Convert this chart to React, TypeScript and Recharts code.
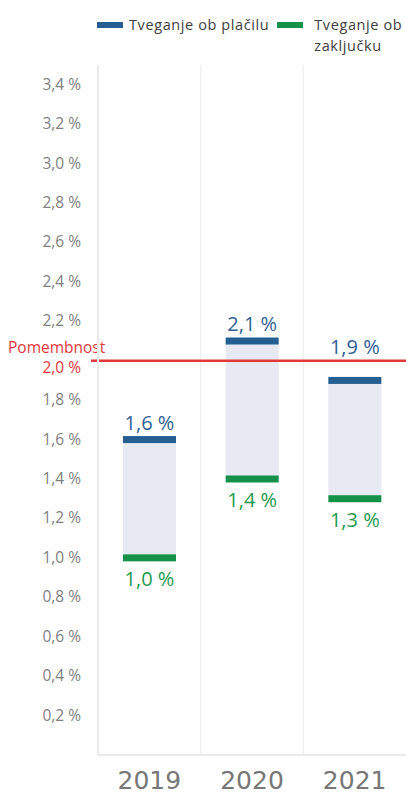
import { Bar, CartesianGrid, ComposedChart, ReferenceLine, XAxis, YAxis } from "recharts"

const years = ["2019", "2020", "2021"]
const paymentRisk = [1.6, 2.1, 1.9]
const closingRisk = [1.0, 1.4, 1.3]
const yTicks = [0.2, 0.4, 0.6, 0.8, 1.0, 1.2, 1.4, 1.6, 1.8, 2.0, 2.2, 2.4, 2.6, 2.8, 3.0, 3.2, 3.4]
const materiality = 2.0
const legendNames = ["Tveganje ob plačilu", "Tveganje ob zaključku"]

const BLUE = "#255e91"
const GREEN = "#16914a"
const RANGE_FILL = "#e7eaf3"
const RED = "#e2383b"
const GREY = "#7f7f7f"

const data = years.map((year, i) => ({
  year,
  payment: paymentRisk[i],
  closing: closingRisk[i],
}))

const fmt = (v: number) => `${v.toFixed(1).replace(".", ",")} %`

function RangeShape(props: any) {
  const { x, y, width, height, payload } = props
  const cap = 7
  const cx = x + width / 2
  // keep the upper label clear of the materiality line
  const pxPerUnit = height / (payload.payment - payload.closing)
  const lineY = y - (materiality - payload.payment) * pxPerUnit
  let topY = y - 10
  if (topY > lineY - 6 && topY - 16 < lineY + 4) topY = lineY - 7
  return (
    <g>
      <rect x={x} y={y} width={width} height={height} fill={RANGE_FILL} />
      <rect x={x} y={y - cap / 2} width={width} height={cap} fill={BLUE} />
      <rect x={x} y={y + height - cap / 2} width={width} height={cap} fill={GREEN} />
      <text x={cx} y={topY} textAnchor="middle" fill="#2f6196" fontSize={20} fontFamily="Open Sans">
        {fmt(payload.payment)}
      </text>
      <text x={cx} y={y + height + 28} textAnchor="middle" fill="#1e9a4f" fontSize={20} fontFamily="Open Sans">
        {fmt(payload.closing)}
      </text>
    </g>
  )
}

function YTick(props: any) {
  const { x, y, payload } = props
  const red = Math.abs(payload.value - materiality) < 1e-6
  return (
    <text
      x={x - 9}
      y={y + (red ? 12 : 5)}
      textAnchor="end"
      fill={red ? RED : GREY}
      fontSize={15.5}
      fontFamily="Open Sans"
    >
      {fmt(payload.value)}
    </text>
  )
}

function XTick(props: any) {
  const { x, y, payload } = props
  return (
    <text x={x} y={y + 26} textAnchor="middle" fill="#777" fontSize={25} fontFamily="DejaVu Sans">
      {payload.value}
    </text>
  )
}

function MaterialityLabel(props: any) {
  const { viewBox } = props
  return (
    <g>
      <line x1={91} x2={viewBox.x} y1={viewBox.y} y2={viewBox.y} stroke={RED} strokeWidth={2.5} />
      <text x={8} y={viewBox.y - 8} fill={RED} fontSize={15.5} fontFamily="Open Sans">
        Pomembnost
      </text>
    </g>
  )
}

function LegendBox() {
  const item = { display: "flex", alignItems: "flex-start" } as const
  const text = { fontSize: 14.5, color: "#404040", letterSpacing: 0.6, lineHeight: "21px" }
  return (
    <div
      style={{
        position: "absolute",
        left: 0,
        top: 0,
        display: "flex",
        fontFamily: "Open Sans",
        paddingLeft: 97,
        paddingTop: 14,
      }}
    >
      <div style={item}>
        <div style={{ width: 26, height: 6, background: BLUE, marginTop: 8, marginRight: 6 }} />
        <div style={text}>{legendNames[0]}</div>
      </div>
      <div style={{ ...item, marginLeft: 8 }}>
        <div style={{ width: 26, height: 6, background: GREEN, marginTop: 8, marginRight: 11 }} />
        <div style={{ ...text, width: 90 }}>{legendNames[1]}</div>
      </div>
    </div>
  )
}

export default function App() {
  return (
    <div style={{ position: "absolute", left: 0, top: 0, width: 406, height: 794, background: "#fff" }}>
      <ComposedChart width={406} height={794} data={data} margin={{ top: 65, right: 0, bottom: 0, left: 0 }}>
        <CartesianGrid
          horizontal={false}
          stroke="#f0f0f0"
          strokeWidth={1.5}
          verticalCoordinatesGenerator={({ offset }: any) =>
            years.slice(1).map((_, i) => offset.left + (offset.width * (i + 1)) / years.length)
          }
        />
        <XAxis
          dataKey="year"
          height={39}
          tick={<XTick />}
          tickLine={false}
          axisLine={{ stroke: "#eaeaea", strokeWidth: 2 }}
        />
        <YAxis
          domain={[0, 3.5]}
          ticks={yTicks}
          width={98}
          interval={0}
          tick={<YTick />}
          tickLine={false}
          axisLine={{ stroke: "#eaeaea", strokeWidth: 2 }}
        />
        <Bar
          dataKey={(d: any) => [d.closing, d.payment]}
          barSize={53}
          shape={<RangeShape />}
          isAnimationActive={false}
        />
        <ReferenceLine
          y={materiality}
          stroke={RED}
          strokeWidth={2.5}
          label={<MaterialityLabel />}
        />
      </ComposedChart>
      <LegendBox />
    </div>
  )
}
